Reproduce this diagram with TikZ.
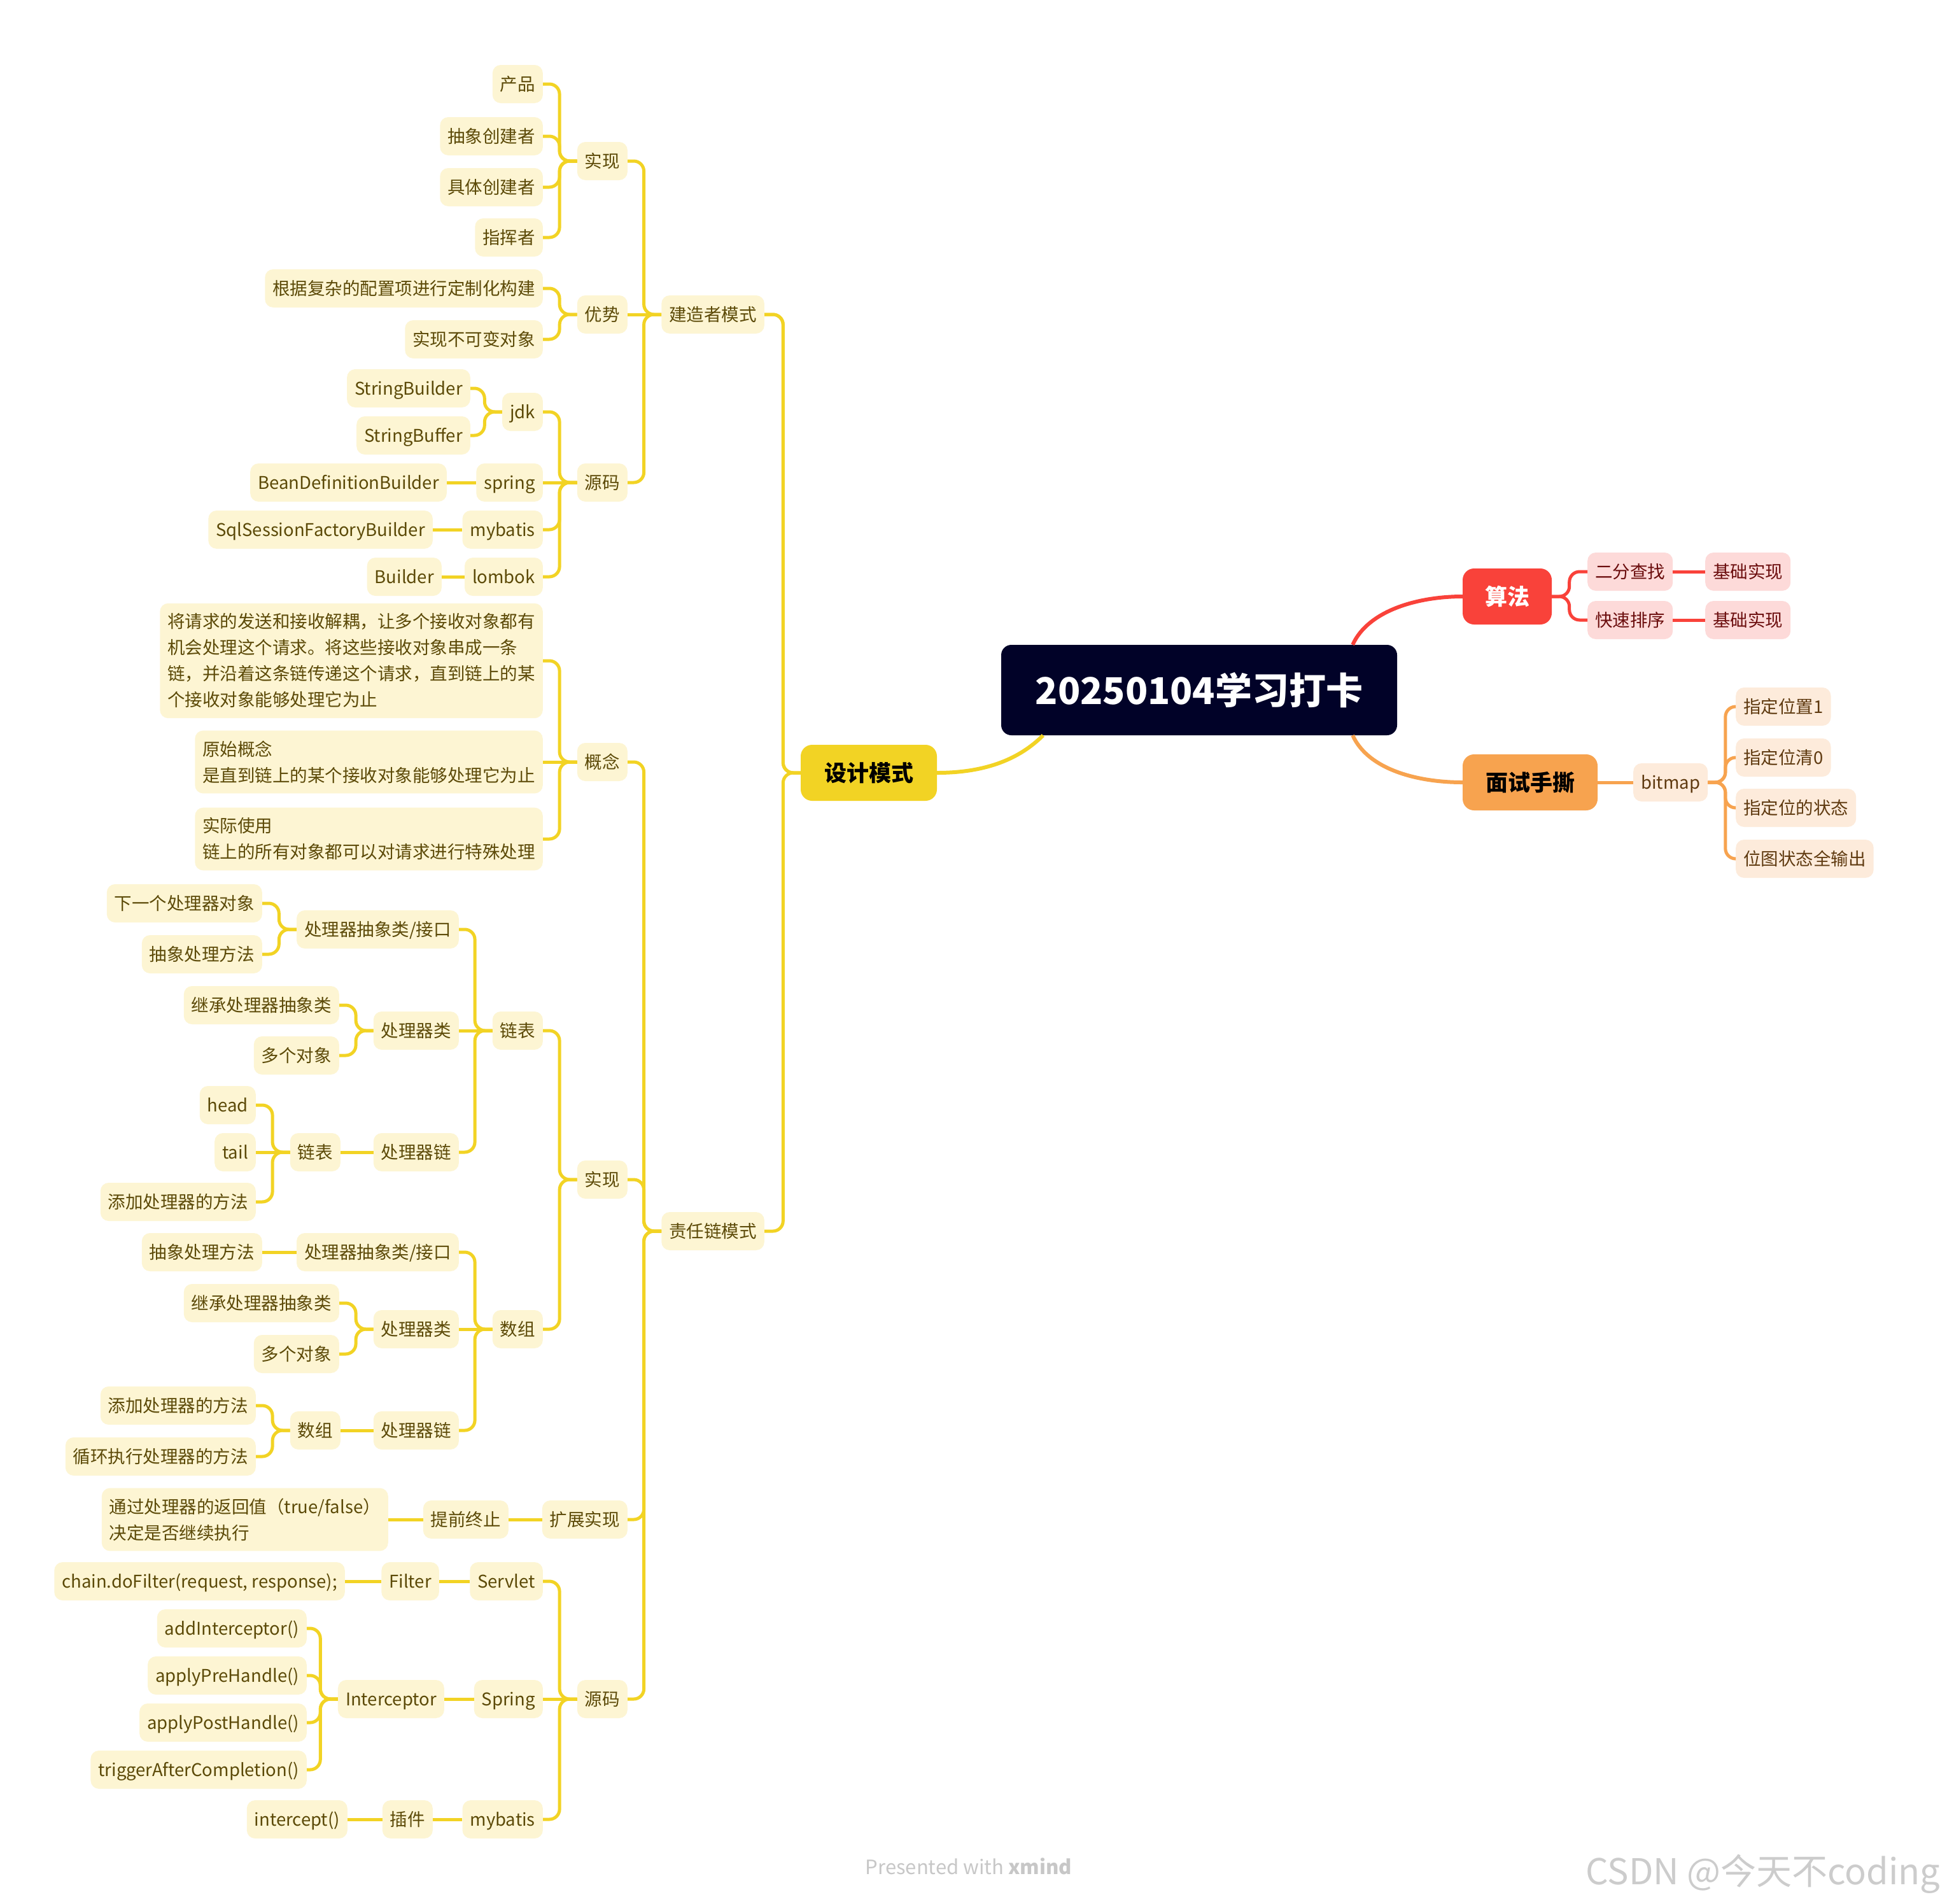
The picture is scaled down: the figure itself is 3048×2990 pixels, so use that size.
\documentclass[tikz,border=0pt]{standalone}
\usepackage{fontspec}
\setmainfont{Noto Sans CJK SC}
\usetikzlibrary{calc}
\definecolor{ymain}{HTML}{F2D324}
\definecolor{ylight}{HTML}{FDF5D3}
\definecolor{ytext}{HTML}{5C4A08}
\definecolor{rmain}{HTML}{F9423A}
\definecolor{rlight}{HTML}{FDDAD9}
\definecolor{rtext}{HTML}{6B0D0D}
\definecolor{omain}{HTML}{F7A34F}
\definecolor{olight}{HTML}{FDEBDB}
\definecolor{otext}{HTML}{5F3A10}
\definecolor{cnavy}{HTML}{010228}
\newcommand\MyLeafFont{\fontsize{27.5}{41}\selectfont}
\newcommand\MyTopicFont{\fontsize{35}{42}\selectfont\bfseries}
\newcommand\MyTitleFont{\fontsize{58}{70}\selectfont\bfseries}
\newcommand\LeftLink[3]{\draw[#1] (#2.west) -- ++(-27.5,0) |- (#3.east);}
\newcommand\RightLink[3]{\draw[#1] (#2.east) -- ++(27.5,0) |- (#3.west);}
\newcommand\LeftStraight[3]{\draw[#1] (#2.west) -- (#3.east);}
\newcommand\RightStraight[3]{\draw[#1] (#2.east) -- (#3.west);}
\tikzset{
  base/.style={rounded corners=13pt, inner xsep=12pt, inner ysep=0pt, minimum height=60pt,
    text height=23.5pt, text depth=2.5pt, font=\MyLeafFont},
  yleaf/.style={base, fill=ylight, text=ytext, anchor=east},
  ymulti/.style={rounded corners=13pt, inner xsep=12pt, inner ysep=16pt, fill=ylight,
    text=ytext, anchor=east, align=left, font=\MyLeafFont},
  rleaf/.style={base, fill=rlight, text=rtext, anchor=west},
  oleaf/.style={base, fill=olight, text=otext, anchor=west},
  yline/.style={draw=ymain, line width=5pt, rounded corners=16pt},
  rline/.style={draw=rmain, line width=5pt, rounded corners=16pt},
  oline/.style={draw=omain, line width=5pt, rounded corners=16pt},
  topic/.style={rounded corners=18pt, minimum height=88pt, inner xsep=6pt, inner ysep=0pt,
    text height=30pt, text depth=3pt, font=\MyTopicFont},
}
\begin{document}
\begin{tikzpicture}[x=1pt,y=-1pt]
\useasboundingbox (0,0) rectangle (3048,2990);
\fill[white] (0,0) rectangle (3048,2990);

% ---------- main nodes ----------
\node[fill=cnavy, text=white, rounded corners=16pt, minimum width=622pt, minimum height=142pt,
  inner sep=0pt, text height=50pt, text depth=5pt, font=\MyTitleFont] (cen) at (1884,1084) {20250104学习打卡};
\node[topic, fill=ymain, text=black, minimum width=214pt] (sheji) at (1365,1214) {设计模式};
\node[topic, fill=rmain, text=white, minimum width=140pt] (suanfa) at (2368,937) {算法};
\node[topic, fill=omain, text=black, minimum width=212pt] (mian) at (2404,1229) {面试手撕};

\draw[rmain, line width=6pt] ($(cen.north east)+(-70,0)$) .. controls +(25,-55) and +(-68,0) .. (suanfa.west);
\draw[omain, line width=6pt] ($(cen.south east)+(-70,0)$) .. controls +(25,55) and +(-68,0) .. (mian.west);
\draw[ymain, line width=6pt] ($(cen.south west)+(66,0)$) .. controls +(-35,35) and +(80,0) .. (sheji.east);

% ---------- right: 算法 ----------
\node[rleaf] (efcz) at (2494,898) {二分查找};
\node[rleaf] (jc1) at (2679,898) {基础实现};
\node[rleaf] (kspx) at (2494,974) {快速排序};
\node[rleaf] (jc2) at (2679,974) {基础实现};
\RightLink{rline}{suanfa}{efcz}
\RightLink{rline}{suanfa}{kspx}
\RightStraight{rline}{efcz}{jc1}
\RightStraight{rline}{kspx}{jc2}

% ---------- right: 面试手撕 ----------
\node[oleaf] (bitmap) at (2566,1229) {bitmap};
\node[oleaf] (wz1) at (2727,1110) {指定位置1};
\node[oleaf] (wz0) at (2727,1190) {指定位清0};
\node[oleaf] (wzt) at (2727,1269) {指定位的状态};
\node[oleaf] (wzs) at (2727,1349) {位图状态全输出};
\RightStraight{oline}{mian}{bitmap}
\RightLink{oline}{bitmap}{wz1}
\RightLink{oline}{bitmap}{wz0}
\RightLink{oline}{bitmap}{wzt}
\RightLink{oline}{bitmap}{wzs}

% ---------- 建造者模式 ----------
\node[yleaf] (jz) at (1201,494) {建造者模式};
\node[yleaf] (jzsx) at (986,253) {实现};
\node[yleaf] (cp) at (853,132) {产品};
\node[yleaf] (cxcjz) at (853,214) {抽象创建者};
\node[yleaf] (jtcjz) at (853,294) {具体创建者};
\node[yleaf] (zhz) at (853,373) {指挥者};
\node[yleaf] (jzys) at (986,494) {优势};
\node[yleaf] (gj) at (853,453) {根据复杂的配置项进行定制化构建};
\node[yleaf] (bkb) at (853,533) {实现不可变对象};
\node[yleaf] (jzym) at (986,758) {源码};
\node[yleaf] (jdk) at (853,647) {jdk};
\node[yleaf] (sbd) at (739,610) {StringBuilder};
\node[yleaf] (sbf) at (739,684) {StringBuffer};
\node[yleaf] (spring) at (853,758) {spring};
\node[yleaf] (bdb) at (702,758) {BeanDefinitionBuilder};
\node[yleaf] (mybatis) at (853,832) {mybatis};
\node[yleaf] (ssfb) at (680,832) {SqlSessionFactoryBuilder};
\node[yleaf] (lombok) at (853,906) {lombok};
\node[yleaf] (builder) at (694,906) {Builder};

\LeftLink{yline}{sheji}{jz}
\LeftLink{yline}{jz}{jzsx}
\LeftStraight{yline}{jz}{jzys}
\LeftLink{yline}{jz}{jzym}
\LeftLink{yline}{jzsx}{cp}
\LeftLink{yline}{jzsx}{cxcjz}
\LeftLink{yline}{jzsx}{jtcjz}
\LeftLink{yline}{jzsx}{zhz}
\LeftLink{yline}{jzys}{gj}
\LeftLink{yline}{jzys}{bkb}
\LeftLink{yline}{jzym}{jdk}
\LeftStraight{yline}{jzym}{spring}
\LeftLink{yline}{jzym}{mybatis}
\LeftLink{yline}{jzym}{lombok}
\LeftLink{yline}{jdk}{sbd}
\LeftLink{yline}{jdk}{sbf}
\LeftStraight{yline}{spring}{bdb}
\LeftStraight{yline}{mybatis}{ssfb}
\LeftStraight{yline}{lombok}{builder}

% ---------- 责任链模式 ----------
\node[yleaf] (zr) at (1201,1934) {责任链模式};
\node[yleaf] (gn) at (986,1197) {概念};
\node[ymulti] (gn1) at (853,1038) {将请求的发送和接收解耦，让多个接收对象都有\\机会处理这个请求。将这些接收对象串成一条\\链，并沿着这条链传递这个请求，直到链上的某\\个接收对象能够处理它为止};
\node[ymulti] (gn2) at (853,1197) {原始概念\\是直到链上的某个接收对象能够处理它为止};
\node[ymulti] (gn3) at (853,1318) {实际使用\\链上的所有对象都可以对请求进行特殊处理};

\node[yleaf] (zrsx) at (986,1853) {实现};
\node[yleaf] (lb) at (853,1619) {链表};
\node[yleaf] (lbabs) at (721,1460) {处理器抽象类/接口};
\node[yleaf] (lbnext) at (412,1419) {下一个处理器对象};
\node[yleaf] (lbam) at (412,1499) {抽象处理方法};
\node[yleaf] (lbcls) at (721,1619) {处理器类};
\node[yleaf] (lbinh) at (533,1579) {继承处理器抽象类};
\node[yleaf] (lbmul) at (533,1658) {多个对象};
\node[yleaf] (lbchain) at (721,1810) {处理器链};
\node[yleaf] (lbll) at (535,1810) {链表};
\node[yleaf] (head) at (402,1736) {head};
\node[yleaf] (tail) at (402,1810) {tail};
\node[yleaf] (lbadd) at (402,1888) {添加处理器的方法};

\node[yleaf] (sz) at (853,2088) {数组};
\node[yleaf] (szabs) at (721,1967) {处理器抽象类/接口};
\node[yleaf] (szam) at (412,1967) {抽象处理方法};
\node[yleaf] (szcls) at (721,2088) {处理器类};
\node[yleaf] (szinh) at (533,2047) {继承处理器抽象类};
\node[yleaf] (szmul) at (533,2127) {多个对象};
\node[yleaf] (szchain) at (721,2247) {处理器链};
\node[yleaf] (szarr) at (535,2247) {数组};
\node[yleaf] (szadd) at (402,2208) {添加处理器的方法};
\node[yleaf] (szloop) at (402,2288) {循环执行处理器的方法};

\node[yleaf] (kz) at (986,2387) {扩展实现};
\node[yleaf] (tqzz) at (799,2387) {提前终止};
\node[ymulti] (tg) at (610,2387) {通过处理器的返回值（true/false）\\决定是否继续执行};

\node[yleaf] (zrym) at (986,2669) {源码};
\node[yleaf] (servlet) at (853,2484) {Servlet};
\node[yleaf] (filter) at (690,2484) {Filter};
\node[yleaf] (dofilter) at (542,2484) {chain.doFilter(request, response);};
\node[yleaf] (spring2) at (853,2669) {Spring};
\node[yleaf] (icpt) at (698,2669) {Interceptor};
\node[yleaf] (addi) at (482,2558) {addInterceptor()};
\node[yleaf] (pre) at (482,2632) {applyPreHandle()};
\node[yleaf] (post) at (482,2706) {applyPostHandle()};
\node[yleaf] (trig) at (482,2780) {triggerAfterCompletion()};
\node[yleaf] (mybatis2) at (853,2858) {mybatis};
\node[yleaf] (plugin) at (680,2858) {插件};
\node[yleaf] (intercept) at (546,2858) {intercept()};

\LeftLink{yline}{sheji}{jz}
\LeftLink{yline}{sheji}{zr}
\LeftLink{yline}{zr}{gn}
\LeftLink{yline}{zr}{zrsx}
\LeftLink{yline}{zr}{kz}
\LeftLink{yline}{zr}{zrym}
\LeftLink{yline}{gn}{gn1}
\LeftStraight{yline}{gn}{gn2}
\LeftLink{yline}{gn}{gn3}
\LeftLink{yline}{zrsx}{lb}
\LeftLink{yline}{zrsx}{sz}
\LeftLink{yline}{lb}{lbabs}
\LeftStraight{yline}{lb}{lbcls}
\LeftLink{yline}{lb}{lbchain}
\LeftLink{yline}{lbabs}{lbnext}
\LeftLink{yline}{lbabs}{lbam}
\LeftLink{yline}{lbcls}{lbinh}
\LeftLink{yline}{lbcls}{lbmul}
\LeftStraight{yline}{lbchain}{lbll}
\LeftLink{yline}{lbll}{head}
\LeftStraight{yline}{lbll}{tail}
\LeftLink{yline}{lbll}{lbadd}
\LeftLink{yline}{sz}{szabs}
\LeftStraight{yline}{sz}{szcls}
\LeftLink{yline}{sz}{szchain}
\LeftStraight{yline}{szabs}{szam}
\LeftLink{yline}{szcls}{szinh}
\LeftLink{yline}{szcls}{szmul}
\LeftStraight{yline}{szchain}{szarr}
\LeftLink{yline}{szarr}{szadd}
\LeftLink{yline}{szarr}{szloop}
\LeftStraight{yline}{kz}{tqzz}
\LeftStraight{yline}{tqzz}{tg}
\LeftLink{yline}{zrym}{servlet}
\LeftStraight{yline}{zrym}{spring2}
\LeftLink{yline}{zrym}{mybatis2}
\LeftStraight{yline}{servlet}{filter}
\LeftStraight{yline}{filter}{dofilter}
\LeftStraight{yline}{spring2}{icpt}
\LeftLink{yline}{icpt}{addi}
\LeftLink{yline}{icpt}{pre}
\LeftLink{yline}{icpt}{post}
\LeftLink{yline}{icpt}{trig}
\LeftStraight{yline}{mybatis2}{plugin}
\LeftStraight{yline}{plugin}{intercept}

% ---------- footer ----------
\node[text=black!22, font=\fontsize{31}{36}\selectfont] (foot) at (1522,2932) {Presented with \textbf{xmind}};
\node[anchor=east, text=black!20, font=\fontsize{56}{64}\selectfont] (csdn) at (3052,2944) {CSDN @今天不coding};
\end{tikzpicture}
\end{document}
